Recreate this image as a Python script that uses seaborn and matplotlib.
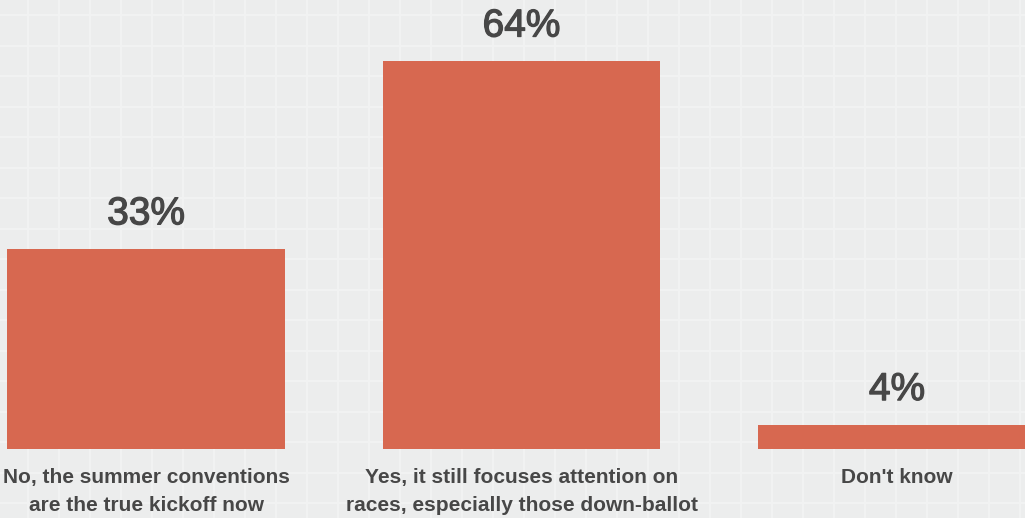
import matplotlib
matplotlib.use("Agg")
import matplotlib.pyplot as plt
import matplotlib.patheffects as pe
import seaborn as sns
import numpy as np

categories = [
    "No, the summer conventions\nare the true kickoff now",
    "Yes, it still focuses attention on\nraces, especially those down-ballot",
    "Don't know",
]
values = [33, 64, 4]
value_labels = ["33%", "64%", "4%"]

bar_color = "#D76850"
text_color = "#474747"
bg_color = "#ECEDED"

sns.set_theme(style="white")
plt.rcParams["font.family"] = ["Liberation Sans", "DejaVu Sans"]

fig = plt.figure(figsize=(10.25, 5.18), dpi=100)
fig.patch.set_facecolor(bg_color)

# background tile grid
bg = fig.add_axes([0, 0, 1, 1], zorder=0)
bg.set_facecolor(bg_color)
bg.set_xlim(0, 1025)
bg.set_ylim(518, 0)
bg.set_xticks(np.arange(28, 1025, 31))
bg.set_yticks(np.arange(15, 518, 30.5))
bg.grid(True, color="#F2F3F3", linewidth=1.3)
bg.tick_params(length=0, labelbottom=False, labelleft=False)
for s in bg.spines.values():
    s.set_visible(False)

# main chart
ax = fig.add_axes([0, 69 / 518, 1, 449 / 518], zorder=1)
ax.patch.set_alpha(0)
sns.barplot(x=categories, y=values, color=bar_color, saturation=1,
            width=0.74, linewidth=0, ax=ax)
ax.set_xlim(-0.389, 2.341)
ax.set_ylim(0, 74.1)

texts = ax.bar_label(ax.containers[0], labels=value_labels, padding=12,
                     fontsize=28, color=text_color)
for t in texts:
    t.set_path_effects([pe.withStroke(linewidth=0.9, foreground=text_color)])

ax.set_yticks([])
ax.tick_params(axis="x", length=0, pad=14)
for lbl in ax.get_xticklabels():
    lbl.set_fontsize(15)
    lbl.set_fontweight("bold")
    lbl.set_color(text_color)
    lbl.set_linespacing(1.6)
ax.set_xlabel("")
ax.set_ylabel("")
for s in ax.spines.values():
    s.set_visible(False)

fig.savefig("out.png", dpi=100, facecolor=fig.get_facecolor())
